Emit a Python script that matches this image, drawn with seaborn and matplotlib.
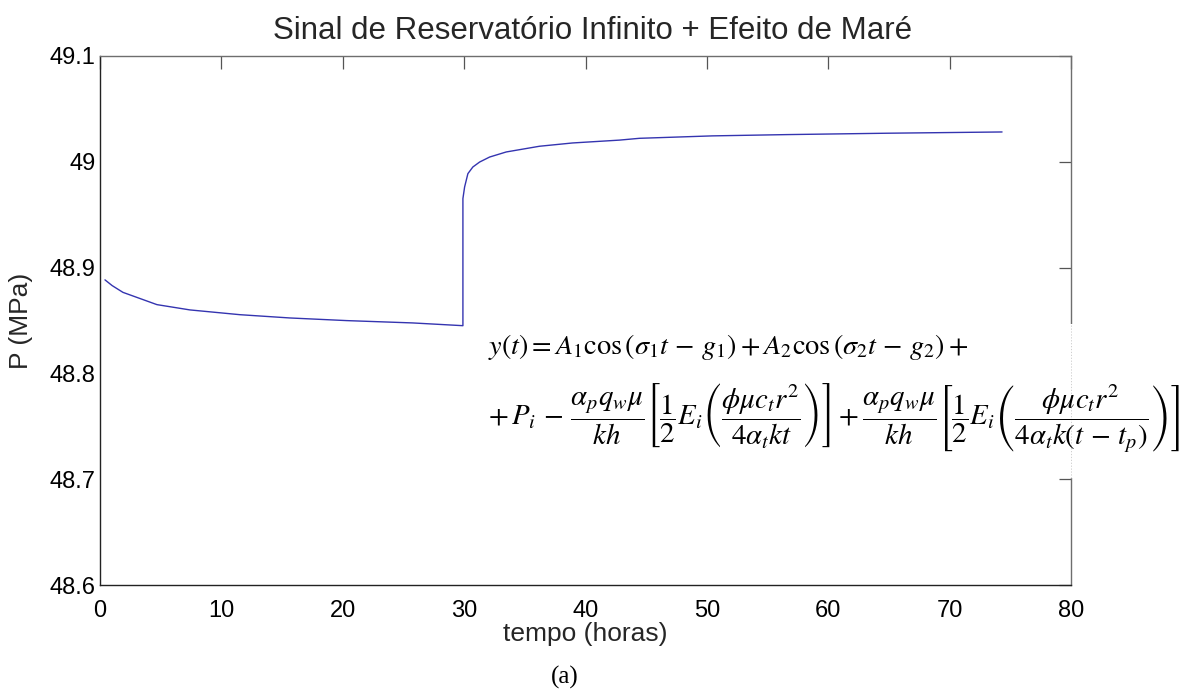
import matplotlib
matplotlib.use("Agg")
import matplotlib.pyplot as plt
from matplotlib.patches import Rectangle
import pandas as pd
import seaborn as sns

# Pressure signal: drawdown until t_p = 30 h, then build-up
tempo_h = [0.41, 1.0, 1.89, 4.69, 7.41, 11.52, 15.64, 20.33, 25.76, 29.90,
           29.90, 30.04, 30.31, 30.72, 31.28, 32.1, 33.47, 36.21, 38.93,
           42.8, 44.44, 50.45, 56.54, 64.77, 74.32]
pressao_mpa = [48.8884, 48.8830, 48.8766, 48.8650, 48.8600, 48.8555, 48.8524,
               48.8499, 48.8477, 48.8451,
               48.9652, 48.9762, 48.9888, 48.9951, 48.9998, 49.0045, 49.0093,
               49.0147, 49.0178, 49.0205, 49.0222, 49.0245, 49.0257, 49.0270,
               49.0282]

x_ticks = [0, 10, 20, 30, 40, 50, 60, 70, 80]
y_ticks = [48.6, 48.7, 48.8, 48.9, 49.0, 49.1]
y_tick_labels = ["48.6", "48.7", "48.8", "48.9", "49", "49.1"]

titulo = "Sinal de Reservatório Infinito + Efeito de Maré"
rotulo_x = "tempo (horas)"
rotulo_y = "P (MPa)"
legenda_fig = "(a)"

eq_linha1 = (r"$y\left(t\right) = A_1\cos\left(\sigma_1 t\,-\,g_1\right)"
             r" + A_2\cos\left(\sigma_2 t\,-\,g_2\right) +$")
eq_linha2 = (r"$+\,P_i\,-\,\dfrac{\alpha_p q_w \mu}{kh}"
             r"\left[\dfrac{1}{2}E_i\left(\dfrac{\phi\mu c_t r^2}{4\alpha_t kt}\right)\right]"
             r" + \dfrac{\alpha_p q_w \mu}{kh}"
             r"\left[\dfrac{1}{2}E_i\left(\dfrac{\phi\mu c_t r^2}"
             r"{4\alpha_t k\left(t\,-\,t_p\right)}\right)\right]$")

sns.set_theme(style="white")
plt.rcParams["font.family"] = ["Liberation Sans", "DejaVu Sans"]
plt.rcParams["mathtext.fontset"] = "stix"

W, H = 1189, 694
fig = plt.figure(figsize=(W / 100, H / 100), dpi=100)
fig.patch.set_facecolor("white")

L, R, T, B = 100, 1071, 56, 585
ax = fig.add_axes([L / W, 1 - B / H, (R - L) / W, (B - T) / H])
ax.set_facecolor("white")

df = pd.DataFrame({"t": tempo_h, "p": pressao_mpa})
sns.lineplot(data=df, x="t", y="p", sort=False, estimator=None,
             color="#3434b0", linewidth=1.0, ax=ax)

ax.set_xlim(0, 80)
ax.set_ylim(48.6, 49.1)
ax.set_xticks(x_ticks)
ax.set_xticklabels([str(v) for v in x_ticks])
ax.set_yticks(y_ticks)
ax.set_yticklabels(y_tick_labels)

ax.tick_params(axis="both", direction="in", length=9, width=0.9,
               colors="#555555", labelcolor="black", labelsize=17,
               top=True, right=True)
ax.tick_params(axis="y", pad=3)
ax.tick_params(axis="x", pad=11)

for side in ["left", "bottom"]:
    ax.spines[side].set_color("#222222")
    ax.spines[side].set_linewidth(1.0)
for side in ["top", "right"]:
    ax.spines[side].set_color("#6e6e6e")
    ax.spines[side].set_linewidth(1.0)

ax.set_xlabel(rotulo_x, fontsize=19, labelpad=0)
ax.set_ylabel(rotulo_y, fontsize=19, labelpad=12)
ax.set_title(titulo, fontsize=22.5, pad=12, x=0.507)

# White panel carrying the model equation
fig.patches.append(Rectangle((470 / W, 1 - 478 / H), (1189 - 470) / W, (478 - 324) / H,
                             transform=fig.transFigure, facecolor="white",
                             edgecolor="none", zorder=1))
fig.lines.append(plt.Line2D([R / W, R / W], [1 - 478 / H, 1 - 324 / H],
                            transform=fig.transFigure, color="#c8c8c8",
                            linewidth=0.6, linestyle=(0, (1.5, 2)), zorder=1.5))

fig.text(488 / W, 1 - 347 / H, eq_linha1, fontsize=20.3, ha="left", va="center",
         color="black", zorder=3)
fig.text(488 / W, 1 - 418 / H, eq_linha2, fontsize=20.8, ha="left", va="center",
         color="black", zorder=3)

fig.text(565 / W, 1 - 677 / H, legenda_fig, fontsize=18, ha="center", va="center",
         family=["Liberation Serif", "DejaVu Serif"], color="black")

fig.savefig("out.png", dpi=100, facecolor="white")
